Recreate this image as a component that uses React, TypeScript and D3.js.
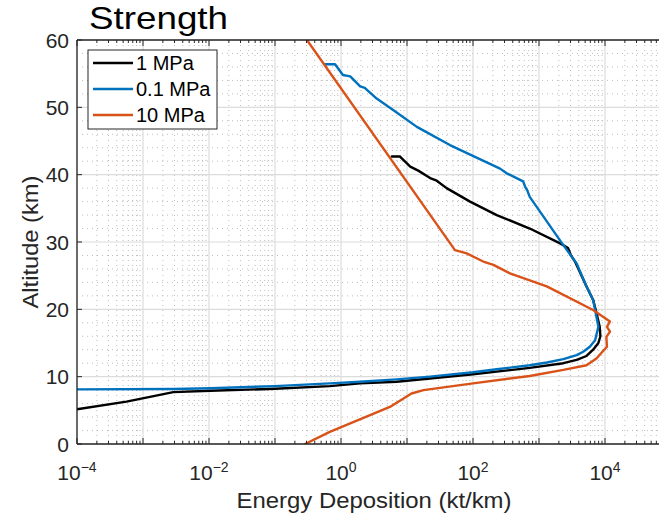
import React from "react";
import * as d3 from "d3";

// ---- data (energy deposition kt/km vs altitude km) ----
const blueAlt = [56.4, 56.4, 54.8, 54.6, 53.1, 52.9, 51.3, 49.6, 47.1, 44.4, 40.9, 40.2, 39.0, 38.2, 37.7, 36.7, 29.8, 26.8, 23.4, 21.4, 19.9, 17.4, 15.4, 14.45, 13.7, 13.2, 12.6, 12.1, 11.7, 11.1, 10.65, 10.0, 9.6, 9.25, 9.0, 8.6, 8.27, 8.17, 8.12];
const blueEnergy = [0.575, 0.813, 1.07, 1.38, 1.95, 2.29, 3.47, 6.17, 14.1, 44.7, 257, 324, 575, 617, 661, 724, 2240, 3720, 5250, 6610, 7080, 7940, 7080, 5890, 4680, 3720, 2340, 1320, 724, 229, 100, 22.4, 7.0, 1.95, 0.676, 0.1, 0.0105, 0.00288, 0.0001];

const blackAlt = [42.7, 42.7, 41.2, 40.6, 39.5, 39.1, 38.0, 36.0, 34.0, 32.0, 29.8, 29.1, 28.1, 27.0, 25.5, 23.4, 21.4, 19.9, 17.4, 16.0, 15.0, 14.0, 13.07, 12.5, 12.0, 11.3, 10.35, 9.25, 9.0, 8.6, 8.2, 7.9, 7.7, 6.3, 5.15];
const blackEnergy = [5.89, 7.76, 11.2, 14.8, 22.4, 28.2, 39.8, 90.2, 229, 724, 2090, 2750, 3020, 3550, 4170, 5250, 6610, 7240, 8320, 8510, 7940, 6610, 5250, 3720, 2340, 724, 100, 7.0, 1.95, 0.676, 0.1, 0.0105, 0.00288, 0.000562, 0.0001];

const orangeAlt = [60, 28.8, 28.3, 27.1, 26.6, 25.35, 23.4, 19.9, 18.2, 17.4, 16.7, 15.9, 14.45, 12.7, 11.7, 11.0, 10.1, 9.0, 8.0, 7.5, 5.5, 1.8, 0];
const orangeEnergy = [0.305, 53.3, 80.4, 143, 204, 363, 1310, 6610, 11900, 10700, 11900, 10500, 10700, 7410, 5250, 2340, 724, 100, 17.8, 11.7, 5.5, 0.676, 0.285];

const seriesNames = ["1 MPa", "0.1 MPa", "10 MPa"];
const seriesColors = ["#000000", "#0072BD", "#D95319"];

const xTickExps = [-4, -2, 0, 2, 4];
const yTicks = [0, 10, 20, 30, 40, 50, 60];

const W = 659;
const H = 520;
const L = 77, R = 671, T = 40, B = 444;

export default function App() {
  const x = d3.scaleLog().domain([1e-4, 1e5]).range([L, R]);
  const y = d3.scaleLinear().domain([0, 60]).range([B, T]);

  const line = d3
    .line<[number, number]>()
    .x((d) => x(d[0]))
    .y((d) => y(d[1]));

  const mk = (e: number[], a: number[]) => e.map((v, i) => [v, a[i]] as [number, number]);
  const series = [mk(blackEnergy, blackAlt), mk(blueEnergy, blueAlt), mk(orangeEnergy, orangeAlt)];

  const majorX: number[] = [];
  const minorX: number[] = [];
  for (let e = -4; e <= 5; e++) {
    majorX.push(Math.pow(10, e));
    if (e < 5) for (let k = 2; k <= 9; k++) minorX.push(k * Math.pow(10, e));
  }
  const minorY: number[] = [];
  for (let v = 2; v < 60; v += 2) if (v % 10 !== 0) minorY.push(v);

  const axisColor = "#262626";
  const font = "'Liberation Sans', Arial, Helvetica, sans-serif";

  return (
    <svg
      width={W}
      height={H}
      style={{ position: "absolute", left: 0, top: 0, background: "#fff" }}
      fontFamily={font}
    >
      <defs>
        <clipPath id="plotclip">
          <rect x={L} y={T} width={R - L} height={B - T} />
        </clipPath>
      </defs>
      <rect x={0} y={0} width={W} height={H} fill="#fff" />
      {/* minor grid */}
      <g stroke="#bdbdbd" strokeWidth={1} strokeDasharray="1,4">
        {minorX.map((v, i) => (
          <line key={"mx" + i} x1={x(v)} x2={x(v)} y1={T} y2={B} />
        ))}
        {minorY.map((v, i) => (
          <line key={"my" + i} x1={L} x2={R} y1={y(v)} y2={y(v)} />
        ))}
      </g>
      {/* major grid */}
      <g stroke="#dcdcdc" strokeWidth={1.2}>
        {majorX.map((v, i) => (
          <line key={"gx" + i} x1={x(v)} x2={x(v)} y1={T} y2={B} />
        ))}
        {yTicks.map((v, i) => (
          <line key={"gy" + i} x1={L} x2={R} y1={y(v)} y2={y(v)} />
        ))}
      </g>
      {/* data */}
      <g clipPath="url(#plotclip)" fill="none" strokeLinejoin="round" strokeLinecap="round">
        {series.map((s, i) => (
          <path key={i} d={line(s) || ""} stroke={seriesColors[i]} strokeWidth={2.4} />
        ))}
      </g>
      {/* axes box */}
      <g stroke={axisColor} strokeWidth={1.3} fill="none">
        <line x1={L} x2={R} y1={B} y2={B} />
        <line x1={L} x2={R} y1={T} y2={T} />
        <line x1={L} x2={L} y1={T} y2={B} />
        <line x1={R} x2={R} y1={T} y2={B} />
      </g>
      {/* ticks */}
      <g stroke={axisColor} strokeWidth={1}>
        {majorX.map((v, i) => (
          <g key={"tx" + i}>
            <line x1={x(v)} x2={x(v)} y1={B} y2={B - 6} />
            <line x1={x(v)} x2={x(v)} y1={T} y2={T + 6} />
          </g>
        ))}
        {minorX.map((v, i) => (
          <g key={"tmx" + i}>
            <line x1={x(v)} x2={x(v)} y1={B} y2={B - 3} />
            <line x1={x(v)} x2={x(v)} y1={T} y2={T + 3} />
          </g>
        ))}
        {yTicks.map((v, i) => (
          <line key={"ty" + i} x1={L} x2={L + 5} y1={y(v)} y2={y(v)} />
        ))}
      </g>
      {/* tick labels */}
      <g fill={axisColor}>
        {xTickExps.map((e) => (
          <text key={"xl" + e} x={x(Math.pow(10, e))} y={480} textAnchor="middle" fontSize={21}>
            10
            <tspan fontSize={14} dy={-8}>
              {e < 0 ? "\u2212" + Math.abs(e) : String(e)}
            </tspan>
          </text>
        ))}
        {yTicks.map((v) => (
          <text key={"yl" + v} x={69} y={y(v) + 7.5} textAnchor="end" fontSize={21}>
            {v}
          </text>
        ))}
      </g>
      {/* axis labels */}
      <text
        x={(L + R) / 2}
        y={508}
        textAnchor="middle"
        fontSize={22}
        fill={axisColor}
        textLength={275}
        lengthAdjust="spacingAndGlyphs"
      >
        Energy Deposition (kt/km)
      </text>
      <text
        transform={`translate(38, ${(T + B) / 2}) rotate(-90)`}
        textAnchor="middle"
        fontSize={22}
        fill={axisColor}
        textLength={133}
        lengthAdjust="spacingAndGlyphs"
      >
        Altitude (km)
      </text>
      {/* title */}
      <text x={89} y={29} fontSize={32} fill="#000" textLength={139} lengthAdjust="spacingAndGlyphs">
        Strength
      </text>
      {/* legend */}
      <g>
        <rect x={88} y={50} width={129} height={79} fill="#fff" stroke={axisColor} strokeWidth={1} />
        {seriesNames.map((n, i) => (
          <g key={n}>
            <line x1={93} x2={133} y1={63 + i * 26} y2={63 + i * 26} stroke={seriesColors[i]} strokeWidth={2.4} />
            <text x={136} y={63 + i * 26 + 7} fontSize={20} fill="#000">
              {n}
            </text>
          </g>
        ))}
      </g>
    </svg>
  );
}
